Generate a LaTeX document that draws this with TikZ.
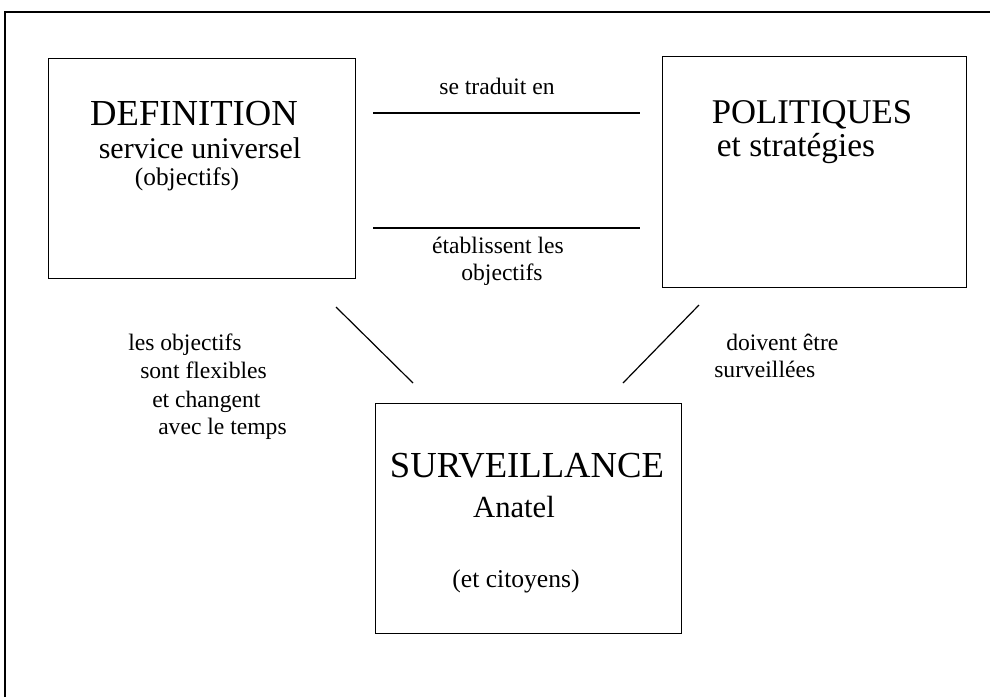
\documentclass[tikz,border=0pt]{standalone}
\usepackage{fontspec}
\setmainfont{Liberation Serif}
\begin{document}
\begin{tikzpicture}[x=0.75pt,y=-0.75pt,
  link/.style={line width=0.9pt},
  boxstyle/.style={draw,line width=1.1pt,inner sep=0pt,anchor=north west},
  lbl/.style={inner sep=0pt,font=\fontsize{17.7}{21}\selectfont},
  big/.style={inner sep=0pt,font=\fontsize{#1}{#1}\selectfont}]
\useasboundingbox (0,0) rectangle (990,697);
\draw[line width=0.9pt] (5,697) -- (5,12) -- (995,12);
% boxes
\node[boxstyle,minimum width=307*0.75pt,minimum height=220*0.75pt] (def) at (48,58) {};
\node[boxstyle,minimum width=304*0.75pt,minimum height=231*0.75pt] (pol) at (662,56) {};
\node[boxstyle,minimum width=306*0.75pt,minimum height=230*0.75pt] (sur) at (375,403) {};
% box texts
\node[big=27.5,anchor=base] (t1) at (194,125) {DEFINITION};
\node[big=22.5,anchor=base] (t2) at (200,158) {service universel};
\node[big=19,anchor=base] (t3) at (187,185) {(objectifs)};
\node[big=26,anchor=base] (t4) at (812,123) {POLITIQUES};
\node[big=25,anchor=base] (t5) at (796,156) {et stratégies};
\node[big=27.5,anchor=base] (t6) at (527,477) {SURVEILLANCE};
\node[big=23,anchor=base] (t7) at (514,517) {Anatel};
\node[big=19.2,anchor=base] (t8) at (516,587) {(et citoyens)};
% connectors
\coordinate (a1) at (373,113); \coordinate (a2) at (640,113);
\coordinate (b1) at (373,228); \coordinate (b2) at (640,228);
\coordinate (c1) at (336,307); \coordinate (c2) at (413,383);
\coordinate (d1) at (699,305); \coordinate (d2) at (623,383);
\draw[link] (a1) -- (a2);
\draw[link] (b1) -- (b2);
\draw[link] (c1) -- (c2);
\draw[link] (d1) -- (d2);
% labels
\node[lbl,anchor=base] (l1) at (497,94) {se traduit en};
\node[lbl,anchor=base] (l2) at (498,253) {établissent les};
\node[lbl,anchor=base] (l3) at (502,280) {objectifs};
\node[lbl,anchor=base west] (l4) at (128,350) {les objectifs};
\node[lbl,anchor=base west] (l5) at (140,378) {sont flexibles};
\node[lbl,anchor=base west] (l6) at (152,407) {et changent};
\node[lbl,anchor=base west] (l7) at (158,434) {avec le temps};
\node[lbl,anchor=base west] (l8) at (726,350) {doivent être};
\node[lbl,anchor=base west] (l9) at (714,377) {surveillées};
\end{tikzpicture}
\end{document}
